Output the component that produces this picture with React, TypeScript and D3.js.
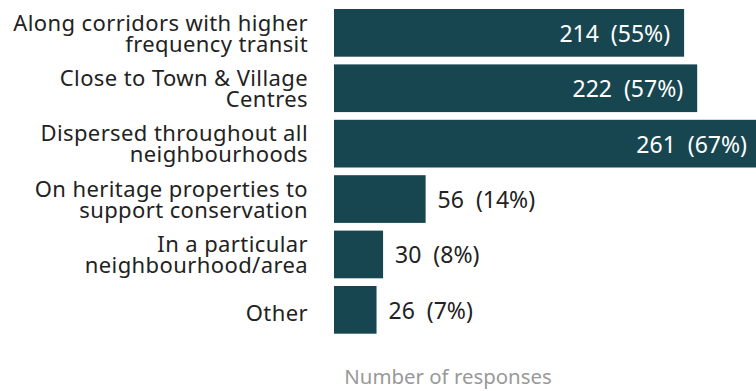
import React from "react";
import * as d3 from "d3";

const categories: string[][] = [
  ["Along corridors with higher", "frequency transit"],
  ["Close to Town & Village", "Centres"],
  ["Dispersed throughout all", "neighbourhoods"],
  ["On heritage properties to", "support conservation"],
  ["In a particular", "neighbourhood/area"],
  ["Other"],
];
const counts: number[] = [214, 222, 261, 56, 30, 26];
const percents: number[] = [55, 57, 67, 14, 8, 7];
const axisTitle = "Number of responses";

const W = 756;
const H = 391;
const FONT = "'Noto Sans', Lato, sans-serif";
const BAR = "#184650";

export default function App() {
  const x = d3.scaleLinear().domain([0, 261]).range([334, 761]);
  const y = d3
    .scaleBand<number>()
    .domain(d3.range(counts.length))
    .range([9, 333.7])
    .paddingInner(0.139)
    .paddingOuter(0);
  const lineH = 21;
  return (
    <svg
      width={W}
      height={H}
      style={{ position: "absolute", left: 0, top: 0, background: "#fff" }}
      fontFamily={FONT}
    >
      {counts.map((v, i) => {
        const y0 = y(i)!;
        const bh = y.bandwidth();
        const cy = y0 + bh / 2;
        const lines = categories[i];
        const inside = x(v) - x(0) > 200;
        const label = `${v}\u00a0\u00a0(${percents[i]}%)`;
        const base = lines.length === 1 ? cy + 11.5 : cy + 8.2;
        return (
          <g key={i}>
            <rect x={x(0)} y={y0} width={x(v) - x(0)} height={bh} fill={BAR} />
            <text textAnchor="end" fontSize={22} letterSpacing={0.4} fill="#222">
              {lines.map((l, j) => (
                <tspan
                  key={j}
                  x={308}
                  y={base + (j - (lines.length - 1) / 2) * lineH}
                >
                  {l}
                </tspan>
              ))}
            </text>
            <text
              x={inside ? x(v) - 14 : x(v) + 12}
              y={cy + 9}
              textAnchor={inside ? "end" : "start"}
              fontSize={23}
              fill={inside ? "#fff" : "#222"}
            >
              {label}
            </text>
          </g>
        );
      })}
      <text x={448} y={384} textAnchor="middle" fontSize={20.4} fill="#999">
        {axisTitle}
      </text>
    </svg>
  );
}
